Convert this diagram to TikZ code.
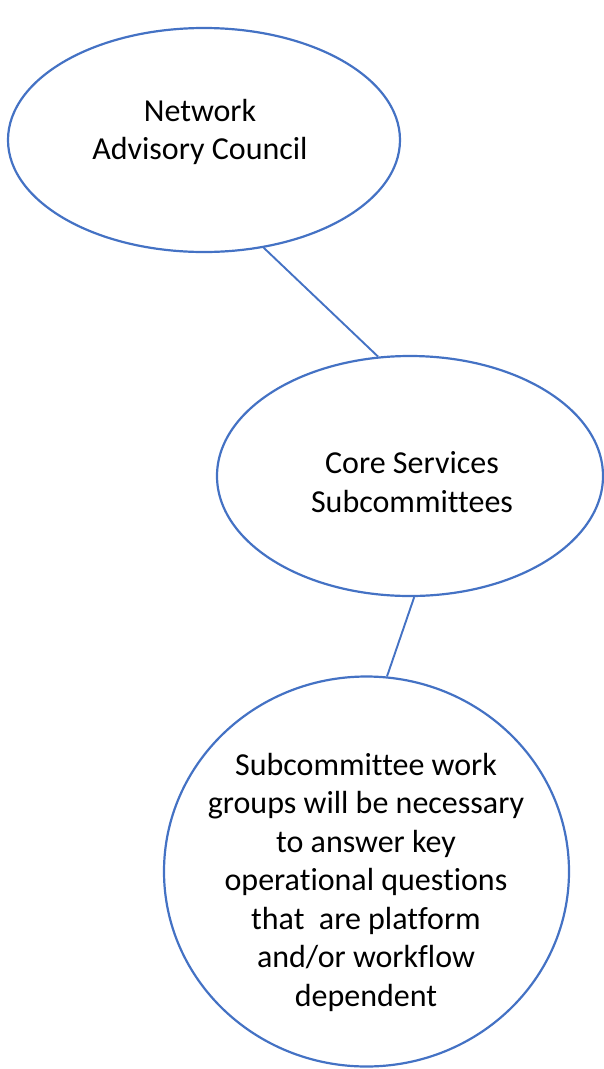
\documentclass[tikz,border=0pt]{standalone}
\usepackage{fontspec}
\setmainfont{Carlito}[Ligatures=NoCommon]
\usepackage{tikz}
\usetikzlibrary{shapes.geometric,positioning}
\usepackage{xcolor}
\definecolor{Bleu}{RGB}{68,114,196}

\begin{document}
\begin{tikzpicture}[x=1pt,y=-1pt,
  bulle/.style={ellipse,draw=Bleu,line width=2.2pt,inner sep=0pt},
  texte/.style={inner sep=0pt,align=center,font=\fontsize{32}{38.5}\selectfont},
  lien/.style={Bleu,line width=1.9pt}]
\useasboundingbox (0,0) rectangle (603,1069);
%
\node[bulle,minimum width=392pt,minimum height=224pt] (nac) at (204,140) {};
\node[bulle,minimum width=386pt,minimum height=240pt] (css) at (410,476) {};
\node[bulle,minimum width=405pt,minimum height=390pt] (grp) at (366.5,871.5) {};
%
\node[texte] (nactxt) at (200,132) {Network\\Advisory Council};
\node[texte] (csstxt) at (412,482) {Core Services\\Subcommittees};
\node[texte] (grptxt) at (366,882)
  {Subcommittee work\\groups will be necessary\\to answer key\\operational questions\\that~ are platform\\and/or workflow\\dependent};
%
\draw[lien] (nac.-61) -- (css.105.5);
\draw[lien] (css.-88.6) -- (grp.84.6);
%
\end{tikzpicture}
\end{document}
